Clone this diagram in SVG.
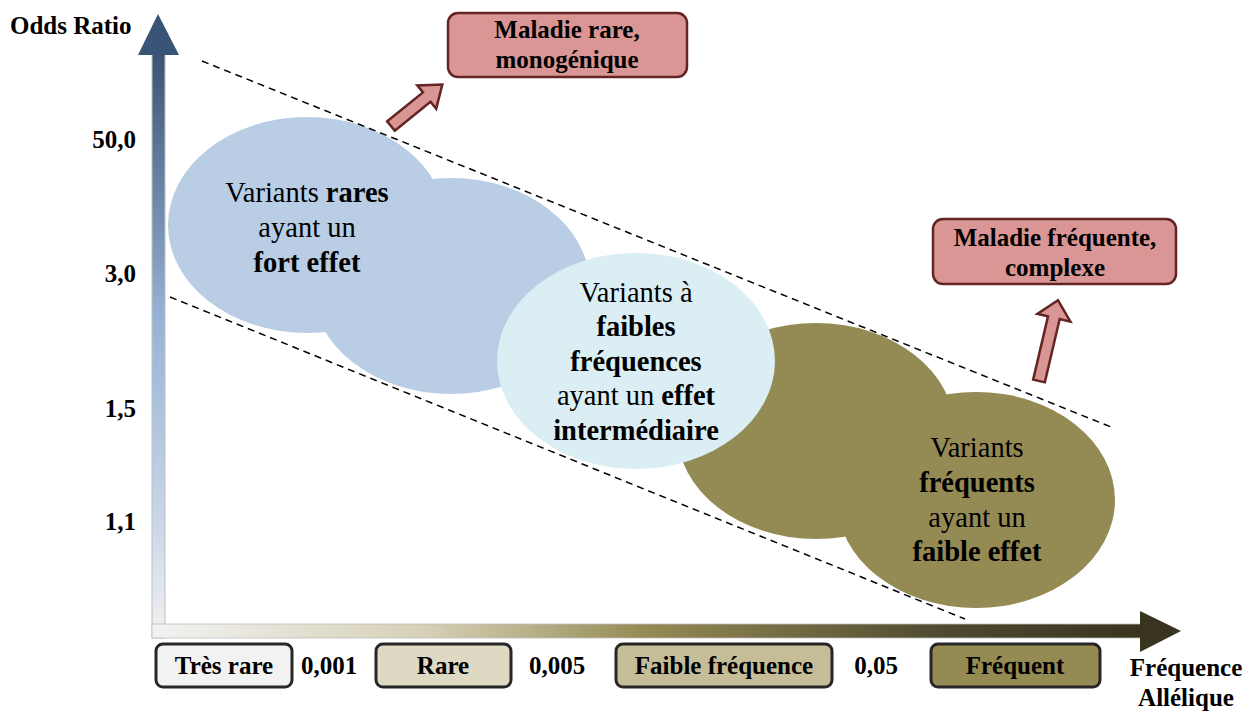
<svg xmlns="http://www.w3.org/2000/svg" width="1254" height="714" viewBox="0 0 1254 714">
<defs>
<linearGradient id="gv" x1="0" y1="0" x2="0" y2="1">
<stop offset="0" stop-color="#3A5477"/>
<stop offset="0.45" stop-color="#95B3D7"/>
<stop offset="0.8" stop-color="#C9D6E7"/>
<stop offset="1" stop-color="#F2F2F2"/>
</linearGradient>
<linearGradient id="gh" x1="0" y1="0" x2="1" y2="0">
<stop offset="0" stop-color="#F2F2F2"/>
<stop offset="0.28" stop-color="#D5D0B5"/>
<stop offset="0.5" stop-color="#948A54"/>
<stop offset="0.8" stop-color="#4E4A30"/>
<stop offset="1" stop-color="#38341F"/>
</linearGradient>
<style>
.t{font-family:"Liberation Serif","Times New Roman",serif;fill:#000;}
.b{font-weight:bold;}
.et{font-size:28.5px;text-anchor:middle;}
.lab{font-size:25px;font-weight:bold;}
.pink{fill:#D99694;stroke:#632523;stroke-width:2.5;}
.bb{stroke:#262626;stroke-width:3;}
.dash{fill:none;stroke:#000;stroke-width:1.5;stroke-dasharray:7,5;}
</style>
</defs>

<g id="axes">
<rect x="152" y="54" width="13" height="584" fill="url(#gv)" stroke="#BFBFBF" stroke-width="1"/>
<polygon points="158,14 179,55 138,55" fill="#3A5477"/>
<rect x="152" y="624" width="990" height="14" fill="url(#gh)" stroke="#BFBFBF" stroke-width="0.8"/>
<polygon points="1140,611 1181,631 1140,652" fill="#38341F"/>
<text class="t lab" x="10" y="34">Odds Ratio</text>
<text class="t lab" x="136" y="148" text-anchor="end">50,0</text>
<text class="t lab" x="136" y="282" text-anchor="end">3,0</text>
<text class="t lab" x="136" y="417" text-anchor="end">1,5</text>
<text class="t lab" x="136" y="530" text-anchor="end">1,1</text>
<text class="t lab" x="1186" y="676" text-anchor="middle">Fréquence</text>
<text class="t lab" x="1186" y="706" text-anchor="middle">Allélique</text>
</g>

<g id="ellipses-blue">
<ellipse cx="307" cy="225" rx="139" ry="108" fill="#B9CDE5"/>
<ellipse cx="451" cy="286" rx="139" ry="108" fill="#B9CDE5"/>
<text class="t et" x="307" y="202">Variants <tspan class="b">rares</tspan></text>
<text class="t et" x="307" y="237">ayant un</text>
<text class="t et b" x="307" y="272">fort effet</text>
</g>

<g id="ellipses-olive">
<ellipse cx="816" cy="431" rx="139" ry="108" fill="#948A54"/>
<ellipse cx="976" cy="500" rx="139" ry="108" fill="#948A54"/>
<text class="t et" x="977" y="457">Variants</text>
<text class="t et b" x="977" y="492">fréquents</text>
<text class="t et" x="977" y="527">ayant un</text>
<text class="t et b" x="977" y="561">faible effet</text>
</g>

<g id="ellipse-mid">
<ellipse cx="636" cy="361" rx="139" ry="108" fill="#DBEEF4"/>
<text class="t et" x="636" y="302">Variants à</text>
<text class="t et b" x="636" y="336">faibles</text>
<text class="t et b" x="636" y="371">fréquences</text>
<text class="t et" x="636" y="405">ayant un <tspan class="b">effet</tspan></text>
<text class="t et b" x="636" y="440">intermédiaire</text>
</g>

<g id="connectors">
<line class="dash" x1="202" y1="61" x2="1111" y2="427"/>
<line class="dash" x1="170" y1="297" x2="965" y2="619"/>
<path class="pink" d="M0,-6 L46,-6 L46,-15 L66,0 L46,15 L46,6 L0,6 Z" transform="translate(391,126) rotate(-39)"/>
<path class="pink" d="M0,-6 L65,-6 L65,-17 L83,0 L65,17 L65,6 L0,6 Z" transform="translate(1039,381) rotate(-76.8)"/>
</g>

<g id="box-rare-disease">
<rect class="pink" x="448" y="13" width="239" height="64" rx="10"/>
<text class="t lab" x="567" y="38" text-anchor="middle">Maladie rare,</text>
<text class="t lab" x="567" y="68" text-anchor="middle">monogénique</text>
</g>

<g id="box-frequent-disease">
<rect class="pink" x="933" y="219" width="243" height="65" rx="10"/>
<text class="t lab" x="1055" y="246" text-anchor="middle">Maladie fréquente,</text>
<text class="t lab" x="1055" y="276" text-anchor="middle">complexe</text>
</g>

<g id="cat-tres-rare">
<rect class="bb" x="156" y="644" width="136" height="43" rx="7" fill="#F2F2F2"/>
<text class="t lab" x="224" y="674" text-anchor="middle">Très rare</text>
</g>
<text class="t lab" x="329" y="674" text-anchor="middle">0,001</text>
<g id="cat-rare">
<rect class="bb" x="376" y="644" width="135" height="43" rx="7" fill="#DDD9C3"/>
<text class="t lab" x="443" y="674" text-anchor="middle">Rare</text>
</g>
<text class="t lab" x="557" y="674" text-anchor="middle">0,005</text>
<g id="cat-faible">
<rect class="bb" x="616" y="644" width="216" height="43" rx="7" fill="#C4BD97"/>
<text class="t lab" x="724" y="674" text-anchor="middle">Faible fréquence</text>
</g>
<text class="t lab" x="876" y="674" text-anchor="middle">0,05</text>
<g id="cat-frequent">
<rect class="bb" x="931" y="644" width="169" height="43" rx="7" fill="#948A54"/>
<text class="t lab" x="1015" y="674" text-anchor="middle">Fréquent</text>
</g>
</svg>
